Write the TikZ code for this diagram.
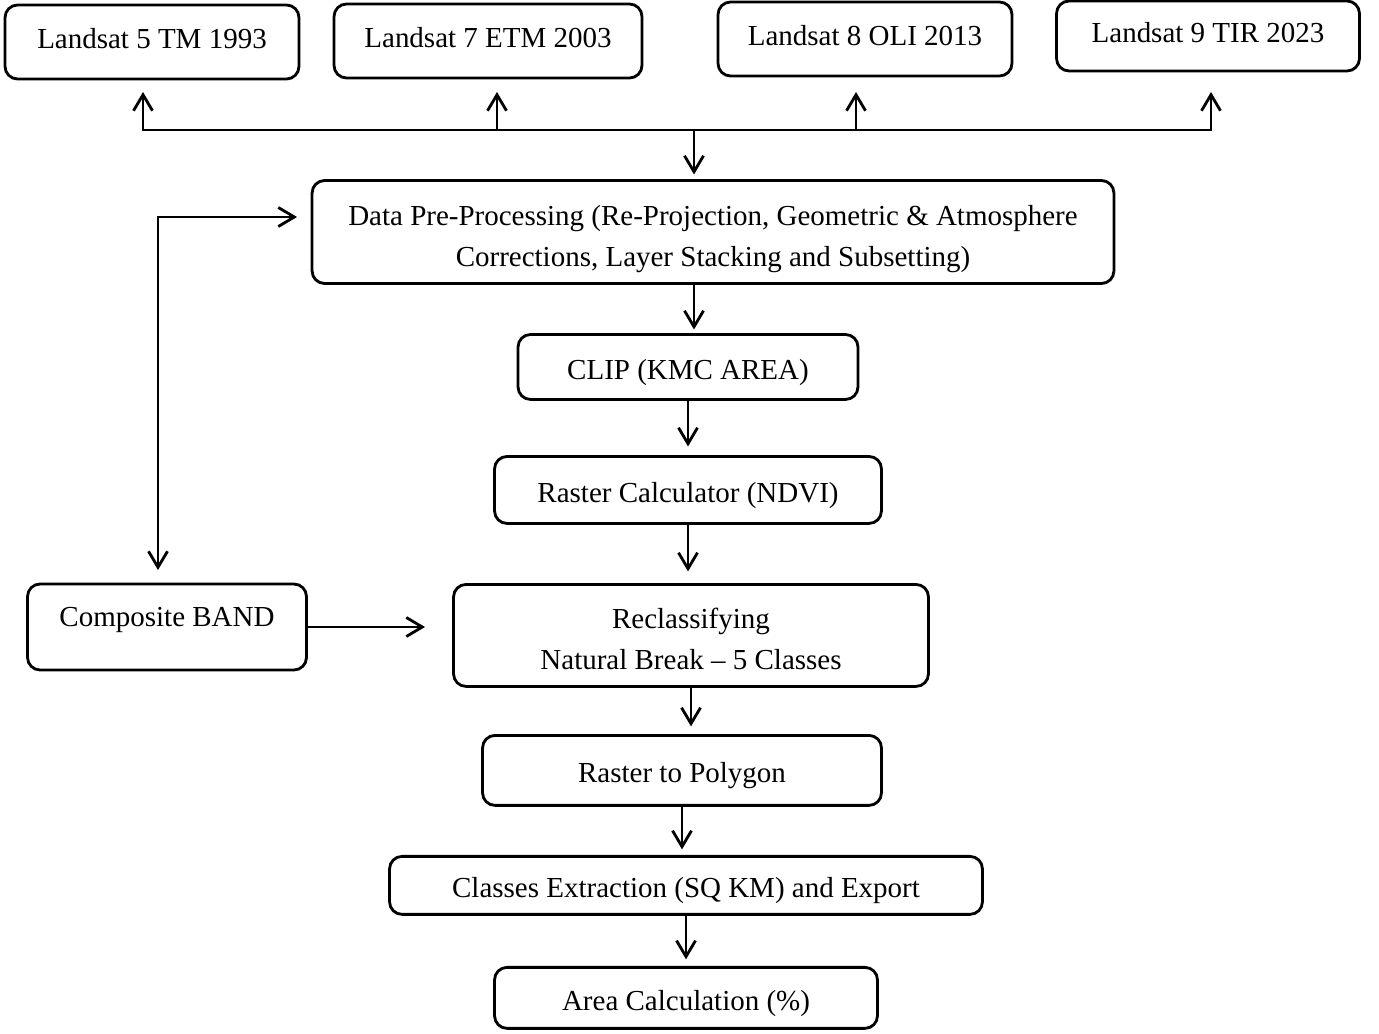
\documentclass[tikz,border=0pt]{standalone}
\usepackage{fontspec}
\setmainfont{Liberation Serif}
\usetikzlibrary{positioning, arrows.meta}
\tikzset{
        ->,  % every connector is directed
        >={Straight Barb[length=3.2mm, width=3.8mm]}, % open heads
        box/.style={draw, rounded corners=0.25cm, align=center, inner sep=2pt, outer sep=0pt,
                    font=\fontsize{16.5}{23}\selectfont},
        scene/.style={box, text height=0.4cm, text depth=0.12cm},
        flow/.style={box, text height=0.6cm, text depth=0.1cm}
        }

\begin{document}
\begin{tikzpicture}[x=0.02cm, y=-0.02cm, line width=1.6pt]
        \useasboundingbox (0,0) rectangle (1379,1034);
        % satellite scenes
        \node[scene, minimum width=5.88cm, minimum height=1.48cm] (L5) at (152,42) {Landsat 5 TM 1993};
        \node[scene, minimum width=6.16cm, minimum height=1.48cm] (L7) at (488,41) {Landsat 7 ETM 2003};
        \node[scene, minimum width=5.88cm, minimum height=1.48cm] (L8) at (865,39) {Landsat 8 OLI 2013};
        \node[scene, minimum width=6.06cm, minimum height=1.40cm] (L9) at (1208,36) {Landsat 9 TIR 2023};

        % processing chain
        \node[box, minimum width=16.04cm, minimum height=2.06cm, text height=1.5cm] (data) at (713,232)
              {Data Pre-Processing (Re-Projection, Geometric \& Atmosphere\\Corrections, Layer Stacking and Subsetting)};
        \node[flow, below=1.02cm of data, xshift=-0.5cm, minimum width=6.8cm, minimum height=1.3cm] (clip) {CLIP (KMC AREA)};
        \node[flow, below=1.14cm of clip, minimum width=7.74cm, minimum height=1.34cm] (ndvi) {Raster Calculator (NDVI)};
        \node[box, below=1.22cm of ndvi, xshift=0.06cm, minimum width=9.5cm, minimum height=2.04cm, text height=1.36cm] (reclass)
              {Reclassifying\\Natural Break -- 5 Classes};
        \node[flow, below=0.98cm of reclass, xshift=-0.18cm, minimum width=7.98cm, minimum height=1.4cm] (poly) {Raster to Polygon};
        \node[flow, below=1.02cm of poly, xshift=0.08cm, minimum width=11.86cm, minimum height=1.16cm] (classes)
              {Classes Extraction (SQ KM) and Export};
        \node[flow, below=1.06cm of classes, minimum width=7.66cm, minimum height=1.22cm] (area) {Area Calculation (\%)};
        \node[box, minimum width=5.58cm, minimum height=1.72cm, text depth=0.4cm] (comp) at (167,627) {Composite BAND};

        % bar to the scenes
        \coordinate (j) at (694,130);
        \coordinate (b5) at (143,130);
        \coordinate (b7) at (497,130);
        \coordinate (b8) at (856,130);
        \coordinate (b9) at (1211,130);
        \coordinate (k) at (158,217);

        \draw[-, line cap=rect] (b5) -- (b9);
        \foreach \n/\g in {5/0.26, 7/0.28, 8/0.32, 9/0.42}
              \draw[shorten >=\g cm] (b\n) -- (b\n |- L\n.south);
        \draw[shorten >=0.12cm] (j) -- (j |- data.north);
        \draw[shorten >=0.1cm] (j |- data.south) -- (j |- clip.north);
        \draw[shorten >=0.2cm] (clip.south) -- (clip.south |- ndvi.north);
        \draw[shorten >=0.26cm] (ndvi.south) -- (ndvi.south |- reclass.north);
        \draw[shorten >=0.18cm] (reclass.south) -- (reclass.south |- poly.north);
        \draw[shorten >=0.14cm] (poly.south) -- (poly.south |- classes.north);
        \draw[shorten >=0.16cm] (classes.south) -- (classes.south |- area.north);
        \draw[<->, shorten <=0.28cm, shorten >=0.3cm] (k |- comp.north) -- (k) -- (k -| data.west);
        \draw[shorten >=0.57cm] (comp.east) -- (comp.east -| reclass.west);
\end{tikzpicture}
\end{document}
